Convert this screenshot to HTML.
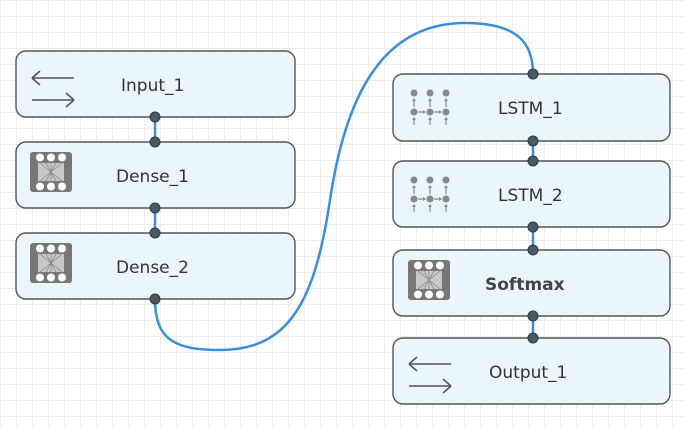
<!DOCTYPE html>
<html><head><style>
html,body{margin:0;padding:0;}
body{width:685px;height:424px;overflow:hidden;background:#fff;
background-image:linear-gradient(#ededed 1px,transparent 1px),linear-gradient(90deg,#ededed 1px,transparent 1px);background-size:16px 16px;}
text{font-family:"DejaVu Sans","Liberation Sans",sans-serif;font-size:17px;fill:#333;}
</style></head><body>
<svg width="685" height="424" xmlns="http://www.w3.org/2000/svg">
<defs>
<g id="dense">
<rect x="0" y="0" width="42" height="40" rx="3" fill="#777"/>
<rect x="8" y="11" width="26" height="18" fill="#c8c8c8"/>
<path d="M10 11 L32 29 M32 11 L10 29 M16 11 L26 29 M26 11 L16 29 M21 11 L21 29" stroke="#888" stroke-width="0.8"/>
<circle cx="10" cy="5.5" r="4" fill="#fff"/><circle cx="21" cy="5.5" r="4" fill="#fff"/><circle cx="32" cy="5.5" r="4" fill="#fff"/>
<circle cx="10" cy="34.5" r="4" fill="#fff"/><circle cx="21" cy="34.5" r="4" fill="#fff"/><circle cx="32" cy="34.5" r="4" fill="#fff"/>
</g>
<g id="lstm" fill="#888" stroke="#888">
<circle cx="4" cy="4" r="3.5" stroke="none"/><circle cx="20" cy="4" r="3.5" stroke="none"/><circle cx="36" cy="4" r="3.5" stroke="none"/>
<circle cx="4" cy="23" r="3.5" stroke="none"/><circle cx="20" cy="23" r="3.5" stroke="none"/><circle cx="36" cy="23" r="3.5" stroke="none"/>
<path d="M4 18 V10 M20 18 V10 M36 18 V10 M4 36 V29 M20 36 V29 M36 36 V29 M8 23 H15 M24 23 H31" stroke-width="1.2" fill="none"/>
<path d="M2 12 L4 9 L6 12Z M18 12 L20 9 L22 12Z M34 12 L36 9 L38 12Z M2 31 L4 28 L6 31Z M18 31 L20 28 L22 31Z M34 31 L36 28 L38 31Z M13 21 L16 23 L13 25Z M29 21 L32 23 L29 25Z" stroke="none"/>
</g>
<g id="io" stroke="#555" stroke-width="1.6" fill="none">
<path d="M0 8 H42 M0 8 L8 1 M0 8 L8 15"/>
<path d="M0 30 H42 M42 30 L34 23 M42 30 L34 37"/>
</g>
</defs>
<g stroke="#3b8fd9" stroke-width="2.5" fill="none">
<path d="M155 299 C155 340 175 350 220 350 C290 350 315 300 330 200 C345 100 380 23 465 23 C520 23 533 45 533 74"/>
<path d="M155 117 V142 M155 208 V233 M533 141 V161 M533 227 V250 M533 316 V338"/>
</g>
<g fill="#eaf6fc" stroke="#555" stroke-width="1.4">
<rect x="16" y="51" width="279" height="66" rx="10"/>
<rect x="16" y="142" width="279" height="66" rx="10"/>
<rect x="16" y="233" width="279" height="66" rx="10"/>
<rect x="393" y="74" width="277" height="67" rx="10"/>
<rect x="393" y="161" width="277" height="66" rx="10"/>
<rect x="393" y="250" width="277" height="66" rx="10"/>
<rect x="393" y="338" width="277" height="66" rx="10"/>
</g>
<use href="#io" x="32" y="70"/>
<use href="#dense" x="30" y="152"/>
<use href="#dense" x="30" y="243"/>
<use href="#lstm" x="410" y="89"/>
<use href="#lstm" x="410" y="176"/>
<use href="#dense" x="408" y="260"/>
<use href="#io" x="409" y="356"/>
<text x="121" y="91">Input_1</text>
<text x="116" y="182">Dense_1</text>
<text x="116" y="273">Dense_2</text>
<text x="498" y="114">LSTM_1</text>
<text x="498" y="201">LSTM_2</text>
<text x="485" y="290" style="font-weight:bold;fill:#444">Softmax</text>
<text x="489" y="378">Output_1</text>
<g fill="#4a5a62" stroke="#2f3a40" stroke-width="1">
<circle cx="155" cy="117" r="5"/><circle cx="155" cy="142" r="5"/>
<circle cx="155" cy="208" r="5"/><circle cx="155" cy="233" r="5"/>
<circle cx="155" cy="299" r="5"/>
<circle cx="533" cy="74" r="5"/><circle cx="533" cy="141" r="5"/>
<circle cx="533" cy="161" r="5"/><circle cx="533" cy="227" r="5"/>
<circle cx="533" cy="250" r="5"/><circle cx="533" cy="316" r="5"/>
<circle cx="533" cy="338" r="5"/>
</g>
</svg>
</body></html>
